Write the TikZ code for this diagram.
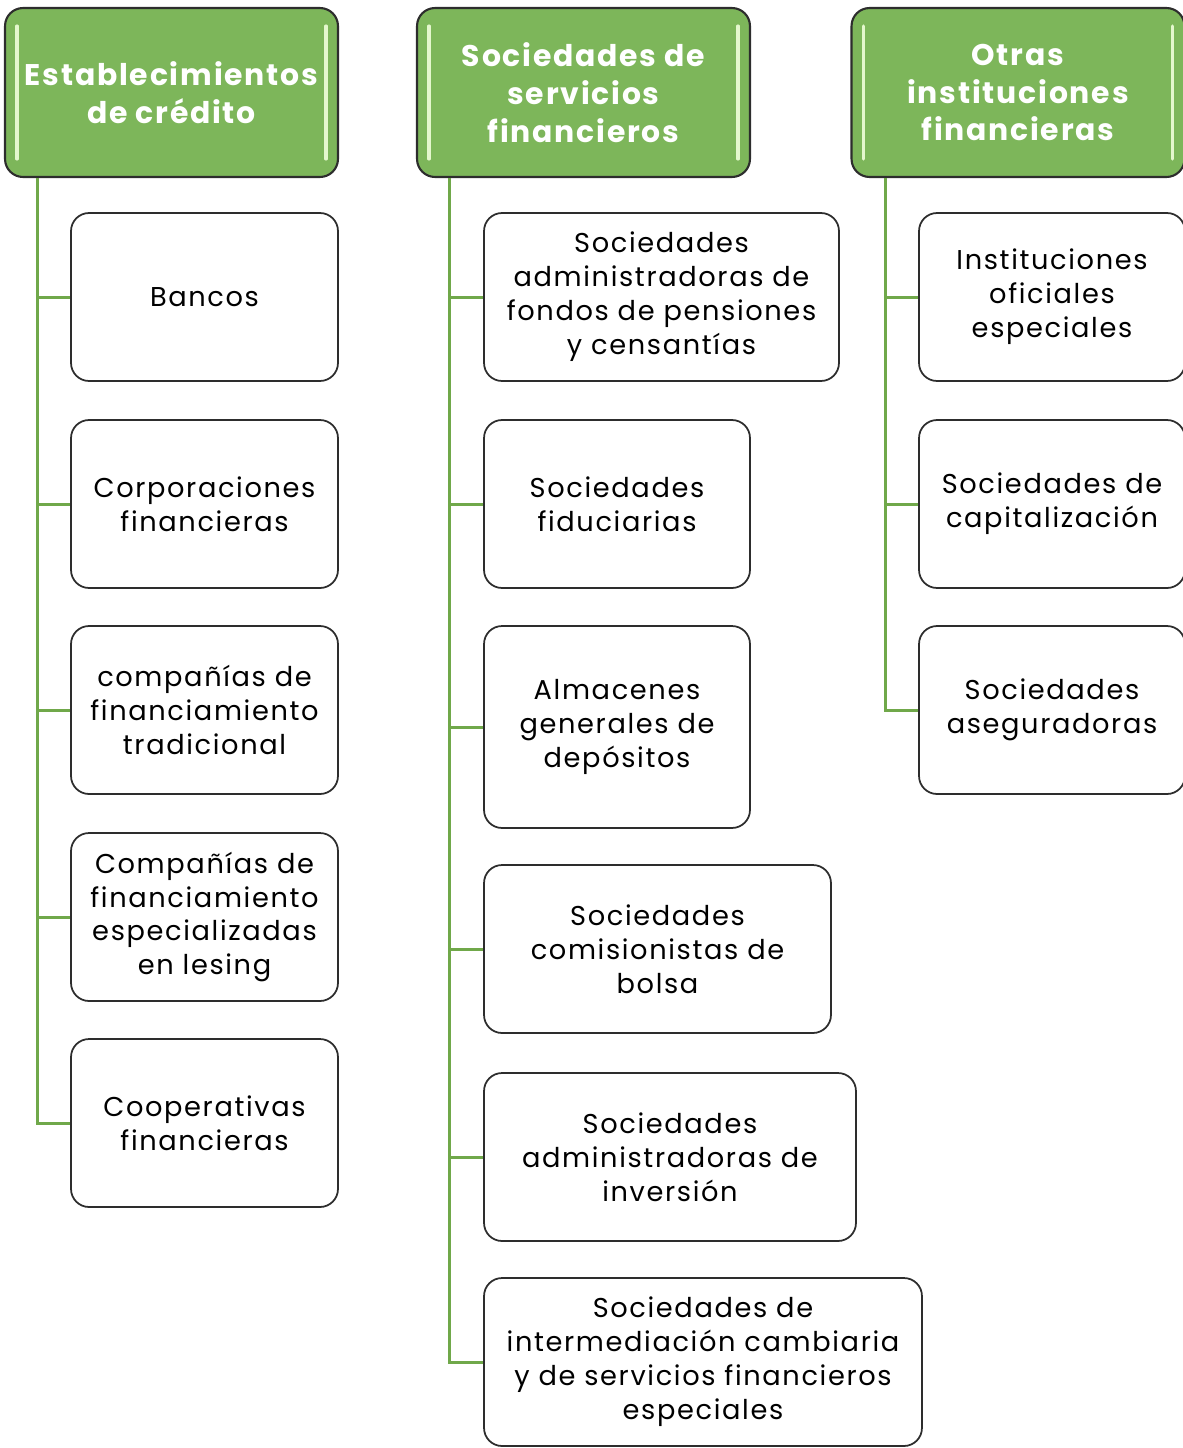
\documentclass[tikz,border=0pt]{standalone}
\usepackage{fontspec}
\setmainfont{Poppins}[LetterSpace=6]
\definecolor{hdgreen}{RGB}{125,182,90}
\definecolor{hdbar}{RGB}{228,247,205}
\definecolor{lnkgreen}{RGB}{112,168,74}
\definecolor{boxline}{RGB}{45,45,45}

\tikzset{
  header/.style={draw=boxline, line width=1.2pt, fill=hdgreen, rounded corners=0.36cm,
    minimum width=6.66cm, minimum height=3.38cm, align=center, text=white,
    font=\fontsize{17}{21.5}\selectfont\bfseries,
    path picture={
      \draw[hdbar, line width=1.8pt, line cap=round]
        ([xshift=0.24cm,yshift=-0.36cm]path picture bounding box.north west) --
        ([xshift=0.24cm,yshift=0.36cm]path picture bounding box.south west);
      \draw[hdbar, line width=1.8pt, line cap=round]
        ([xshift=-0.24cm,yshift=-0.36cm]path picture bounding box.north east) --
        ([xshift=-0.24cm,yshift=0.36cm]path picture bounding box.south east);
    }},
  entry/.style={draw=boxline, line width=1pt, fill=white, rounded corners=0.36cm,
    minimum height=3.36cm, align=center, font=\fontsize{15.5}{19.3}\selectfont},
  link/.style={draw=lnkgreen, line width=1.7pt},
}

\begin{document}
\begin{tikzpicture}[x=0.02cm, y=-0.02cm]
  \useasboundingbox (0,0) rectangle (1183,1448);

  % headers
  \node[header] (hA) at (171.5,92.5) {Establecimientos\\de crédito};
  \node[header] (hB) at (583.5,92.5) {Sociedades de\\servicios\\financieros};
  \node[header] (hC) at (1018,92.5) {Otras\\instituciones\\financieras};

  \coordinate (rootA) at ([xshift=0.68cm]hA.south west);
  \coordinate (rootB) at ([xshift=0.68cm]hB.south west);
  \coordinate (rootC) at ([xshift=0.70cm]hC.south west);

  % establecimientos de credito
  \foreach \i/\y/\txt in {1/297/{Bancos}, 2/504/{Corporaciones\\financieras},
      3/710/{compañías de\\financiamiento\\tradicional},
      4/917/{Compañías de\\financiamiento\\especializadas\\en lesing},
      5/1123/{Cooperativas\\financieras}} {
    \node[entry, minimum width=5.34cm] (a\i) at (204.5,\y) {\txt};
    \draw[link] (rootA) |- (a\i.west);
  }

  % sociedades de servicios financieros
  \node[entry, minimum width=7.10cm] (b1) at (661.5,297)
    {Sociedades\\administradoras de\\fondos de pensiones\\y censantías};
  \node[entry, minimum width=5.32cm] (b2) at (617,504) {Sociedades\\fiduciarias};
  \node[entry, minimum width=5.32cm, minimum height=4.04cm] (b3) at (617,727)
    {Almacenes\\generales de\\depósitos};
  \node[entry, minimum width=6.94cm] (b4) at (657.5,949)
    {Sociedades\\comisionistas de\\bolsa};
  \node[entry, minimum width=7.44cm] (b5) at (670,1157)
    {Sociedades\\administradoras de\\inversión};
  \node[entry, minimum width=8.76cm] (b6) at (703,1362)
    {Sociedades de\\intermediación cambiaria\\y de servicios financieros\\especiales};
  \foreach \i in {1,...,6}
    \draw[link] (rootB) |- (b\i.west);

  % otras instituciones
  \foreach \i/\y/\txt in {1/297/{Instituciones\\oficiales\\especiales},
      2/504/{Sociedades de\\capitalización}, 3/710/{Sociedades\\aseguradoras}} {
    \node[entry, minimum width=5.32cm] (c\i) at (1052,\y) {\txt};
    \draw[link] (rootC) |- (c\i.west);
  }
\end{tikzpicture}
\end{document}
